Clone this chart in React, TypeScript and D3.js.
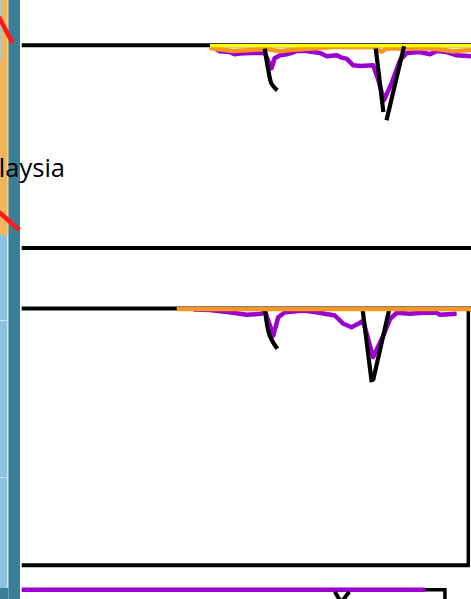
import React from "react";
import * as d3 from "d3";

const W = 471;
const H = 599;

// ---- data: x in time units (0–100), y in depth units (0 = surface, negative = down)
const p1PurpleX = [41.9, 43.0, 44.1, 46.3, 47.4, 48.6, 50.8, 54.1, 55.6, 56.3, 57.5, 59.0, 61.2, 63.4, 66.4, 67.9, 70.1, 71.2, 72.3, 73.8, 75.3, 78.2, 79.4, 80.6, 82.3, 84.2, 85.7, 88.6, 90.9, 92.4, 94.6, 96.8, 100];
const p1PurpleY = [-0.85, -1.5, -3, -3.35, -4.5, -4.15, -3.85, -3.85, -11.5, -6.5, -5, -4.5, -2.85, -2.85, -3.85, -5.5, -5, -6.15, -6.65, -10, -10.35, -10, -17.5, -27.5, -19.15, -7.5, -3.85, -3.35, -4.5, -2.85, -3.35, -5, -5.5];

const p1OrangeX = [41.9, 47.0, 50.8, 54.5, 57.5, 59.7, 64.8, 69.3, 78.2, 80.1, 81.2, 85.7, 91.5, 96.0, 100];
const p1OrangeY = [-1.35, -2.8, -2.3, -1.9, -3.0, -2.3, -1.6, -0.9, -0.9, -3.2, -1.6, -1.6, -1.6, -3.0, -2.3];

const p1YellowX = [41.9, 100];
const p1YellowY = [-0.15, -0.15];

const p2PurpleX = [38.2, 41.9, 47.1, 50.0, 53.4, 54.1, 56.0, 57.1, 58.6, 62.7, 65.6, 69.7, 71.6, 73.4, 74.9, 76.0, 78.2, 80.5, 82.0, 83.5, 86.4, 89.4, 92.4, 93.1, 96.8];
const p2PurpleY = [-0.5, -0.75, -2.15, -3.15, -2.65, -1, -13.5, -4.35, -1.85, -1, -1.85, -3.5, -7.65, -9.35, -7.65, -6, -24.35, -13.5, -5.15, -2.15, -2.65, -2.15, -2.15, -3.15, -2.65];

const p2OrangeX = [34.5, 100];
const p2OrangeY = [-0.3, -0.3];

const p3PurpleX = [0, 89.8];
const p3PurpleY = [0, 0];

// black annotation strokes (x, y)
const p1MarkA: [number, number][] = [[54.1, -1.65], [54.9, -12.5], [55.6, -19.15], [56.9, -22.5]];
const p1MarkB: [number, number][] = [[78.8, -1.65], [80.5, -33.35]];
const p1MarkC: [number, number][] = [[85.1, -0.5], [81.2, -37.5]];
const p2MarkA: [number, number][] = [[54.1, 0], [55.2, -13.5], [56.9, -20.15]];
const p2MarkB: [number, number][] = [[75.9, -1], [77.9, -36.85]];
const p2MarkC: [number, number][] = [[81.8, -0.5], [78.2, -36]];
const p3MarkA: [number, number][] = [[69.7, -0.95], [71.0, -6]];
const p3MarkB: [number, number][] = [[72.9, -0.95], [71.2, -6]];
const p3Tail: [number, number][] = [[89.8, 0], [94.2, 0], [94.2, -8]];

const label = "Malaysia";

// ---- layout
const X0 = 21.7;
const X1 = 471;
const P1_TOP = 45.3;
const P1_BOTTOM = 248;
const P2_TOP = 308.5;
const P2_BOTTOM = 565.3;
const P2_RIGHT = 99.4;
const P3_TOP = 589.8;

const PURPLE = "#9b00d0";
const ORANGE = "#f7971c";
const YELLOW = "#ffff00";

export default function App() {
  const x = d3.scaleLinear().domain([0, 100]).range([X0, X1]);
  const y1 = d3.scaleLinear().domain([0, -100]).range([P1_TOP, P1_TOP + 200]);
  const y2 = d3.scaleLinear().domain([0, -100]).range([P2_TOP, P2_TOP + 200]);
  const y3 = d3.scaleLinear().domain([0, -100]).range([P3_TOP, P3_TOP + 200]);

  const mk = (ys: d3.ScaleLinear<number, number>, curve: d3.CurveFactory = d3.curveLinear) =>
    d3
      .line<[number, number]>()
      .x((d) => x(d[0]))
      .y((d) => ys(d[1]))
      .curve(curve);

  const zip = (xs: number[], ys: number[]) => xs.map((v, i) => [v, ys[i]] as [number, number]);

  const l1 = mk(y1);
  const l1c = mk(y1, d3.curveCatmullRom);
  const l2 = mk(y2);
  const l2c = mk(y2, d3.curveCatmullRom);
  const l3 = mk(y3);

  return (
    <svg width={W} height={H} style={{ position: "absolute", left: 0, top: 0, background: "#fff" }}>
      {/* left decorative strip */}
      <rect x={0} y={0} width={8.5} height={235} fill="#f0b65c" />
      <rect x={0} y={235} width={8.5} height={353} fill="#8ac3e4" />
      <rect x={0} y={0} width={1.5} height={60} fill="#9cc9e0" />
      <rect x={7} y={0} width={1.5} height={235} fill="#f6cf8e" />
      <rect x={7} y={235} width={1.5} height={353} fill="#d3ebf7" />
      <rect x={0} y={320} width={7} height={1} fill="#cde6f3" />
      <rect x={0} y={477} width={7} height={1} fill="#cde6f3" />
      <rect x={8.5} y={0} width={11.5} height={H} fill="#3c7e96" />
      <rect x={0} y={588} width={8.5} height={11} fill="#3c7e96" />
      <line x1={-1} y1={17} x2={12.7} y2={43.3} stroke="#ff1a1a" strokeWidth={4.5} />
      <line x1={-1} y1={212} x2={19.3} y2={230} stroke="#ff1a1a" strokeWidth={4.5} />

      <text x={65} y={177} textAnchor="end" fontFamily="Open Sans, sans-serif" fontSize={25.5} fill="#000">
        {label}
      </text>

      {/* panel 1 */}
      <line x1={x(0)} x2={x(100)} y1={y1(0)} y2={y1(0)} stroke="#000" strokeWidth={4} />
      <line x1={x(0)} x2={x(100)} y1={P1_BOTTOM} y2={P1_BOTTOM} stroke="#000" strokeWidth={4} />
      <path d={l1(zip(p1PurpleX, p1PurpleY)) || ""} fill="none" stroke={PURPLE} strokeWidth={4.5} strokeLinejoin="round" />
      <path d={l1(zip(p1OrangeX, p1OrangeY)) || ""} fill="none" stroke={ORANGE} strokeWidth={4.5} strokeLinejoin="round" />
      <path d={l1(zip(p1YellowX, p1YellowY)) || ""} fill="none" stroke={YELLOW} strokeWidth={3.2} />
      {[p1MarkA].map((m, i) => (
        <path key={"a" + i} d={l1c(m) || ""} fill="none" stroke="#000" strokeWidth={4.2} />
      ))}
      {[p1MarkB, p1MarkC].map((m, i) => (
        <path key={"b" + i} d={l1(m) || ""} fill="none" stroke="#000" strokeWidth={4.2} />
      ))}

      {/* panel 2 */}
      <line x1={x(0)} x2={x(100)} y1={P2_TOP} y2={P2_TOP} stroke="#000" strokeWidth={4} />
      <line x1={x(0)} x2={x(P2_RIGHT) + 1.5} y1={P2_BOTTOM} y2={P2_BOTTOM} stroke="#000" strokeWidth={4} />
      <line x1={x(P2_RIGHT)} x2={x(P2_RIGHT)} y1={P2_TOP} y2={P2_BOTTOM} stroke="#000" strokeWidth={3.5} />
      <path d={l2(zip(p2PurpleX, p2PurpleY)) || ""} fill="none" stroke={PURPLE} strokeWidth={4.5} strokeLinejoin="round" />
      <path d={l2c(p2MarkA) || ""} fill="none" stroke="#000" strokeWidth={4.2} />
      {[p2MarkB, p2MarkC].map((m, i) => (
        <path key={"c" + i} d={l2(m) || ""} fill="none" stroke="#000" strokeWidth={4.2} />
      ))}
      <path d={l2(zip(p2OrangeX, p2OrangeY)) || ""} fill="none" stroke={ORANGE} strokeWidth={4.2} />

      {/* panel 3 (cut off) */}
      <path d={l3(zip(p3PurpleX, p3PurpleY)) || ""} fill="none" stroke={PURPLE} strokeWidth={4.5} />
      <path d={l3(p3Tail) || ""} fill="none" stroke="#000" strokeWidth={3.5} />
      {[p3MarkA, p3MarkB].map((m, i) => (
        <path key={"d" + i} d={l3(m) || ""} fill="none" stroke="#000" strokeWidth={4} />
      ))}
    </svg>
  );
}
